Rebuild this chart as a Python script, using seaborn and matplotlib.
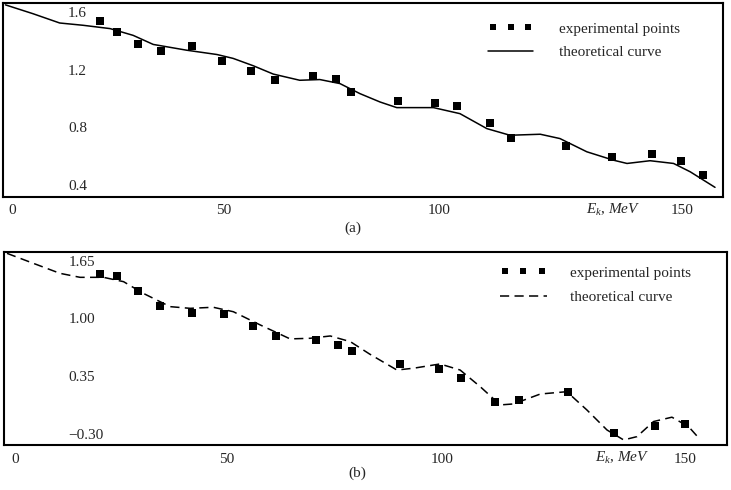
import matplotlib
matplotlib.use("Agg")
import matplotlib.pyplot as plt
import seaborn as sns
import pandas as pd
from matplotlib.collections import PathCollection

# ---------------- data ----------------
# panel (a)
a_exp_x = [20.6, 24.5, 29.6, 34.9, 42.1, 49.1, 56.0, 61.6, 70.6, 75.9, 79.3,
           90.3, 99.1, 104.2, 111.9, 116.8, 129.7, 140.4, 149.8, 156.6, 161.8]
a_exp_y = [1.538, 1.464, 1.383, 1.33, 1.364, 1.26, 1.19, 1.13, 1.156, 1.136, 1.048,
           0.985, 0.971, 0.949, 0.833, 0.729, 0.671, 0.597, 0.614, 0.570, 0.47]
a_th_x = [-1.5, 4.9, 11.2, 16.7, 23.0, 28.4, 33.1, 40.9, 48.0, 51.8, 56.5, 61.2,
          67.4, 72.1, 76.8, 81.5, 86.2, 90.1, 98.7, 104.9, 111.2, 116.6, 123.7,
          128.3, 134.6, 140.8, 144.0, 149.4, 154.9, 158.8, 164.6]
a_th_y = [1.652, 1.591, 1.526, 1.51, 1.487, 1.44, 1.377, 1.337, 1.307, 1.28, 1.229,
          1.171, 1.128, 1.133, 1.105, 1.035, 0.977, 0.938, 0.938, 0.896, 0.792,
          0.746, 0.753, 0.723, 0.631, 0.573, 0.55, 0.569, 0.55, 0.492, 0.384]

# panel (b)
b_exp_x = [19.9, 23.8, 28.7, 34.0, 41.5, 48.8, 55.7, 61.1, 70.4, 75.7, 79.0,
           90.2, 99.3, 104.4, 112.4, 118.1, 129.4, 140.3, 149.9, 156.9]
b_exp_y = [1.50, 1.478, 1.309, 1.144, 1.065, 1.05, 0.915, 0.803, 0.758, 0.702, 0.634,
           0.488, 0.428, 0.334, 0.064, 0.083, 0.176, -0.285, -0.209, -0.19]
b_th_x = [-1.9, 4.3, 10.5, 15.2, 20.7, 25.4, 30.0, 36.3, 41.0, 46.4, 51.1, 57.4,
          64.4, 69.1, 73.8, 78.5, 83.0, 89.4, 93.3, 99.5, 104.2, 108.9, 113.6,
          116.7, 123.0, 129.2, 133.9, 138.6, 142.5, 145.6, 149.5, 153.8, 157.7, 159.8]
b_th_y = [1.733, 1.62, 1.508, 1.463, 1.463, 1.414, 1.283, 1.133, 1.114, 1.126, 1.076,
          0.927, 0.77, 0.777, 0.803, 0.739, 0.6, 0.42, 0.44, 0.488, 0.42, 0.233,
          0.027, 0.038, 0.15, 0.176, -0.03, -0.255, -0.367, -0.33, -0.16, -0.111,
          -0.217, -0.33]

x_tick_labels = ["0", "50", "100", "150"]
a_y_ticks = [0.4, 0.8, 1.2, 1.6]
a_y_labels = ["0.4", "0.8", "1.2", "1.6"]
b_y_ticks = [-0.30, 0.35, 1.00, 1.65]
b_y_labels = ["\u22120.30", "0.35", "1.00", "1.65"]
legend_labels = ["experimental points", "theoretical curve"]
x_label = r"$E_k$, $MeV$"

# ---------------- style ----------------
sns.set_style("white")
plt.rcParams["font.family"] = ["Liberation Serif", "DejaVu Serif"]
plt.rcParams["mathtext.fontset"] = "custom"
plt.rcParams["mathtext.it"] = "Liberation Serif:italic"
plt.rcParams["mathtext.rm"] = "Liberation Serif"
FS = 11

W, H = 731, 490
fig = plt.figure(figsize=(W / 100, H / 100), dpi=100)
fig.patch.set_facecolor("white")


def px_axes(l, t, r, b):
    return fig.add_axes([l / W, 1 - b / H, (r - l) / W, (b - t) / H])


ax_a = px_axes(3.3, 2.7, 722.7, 196.7)
ax_b = px_axes(4.0, 252.0, 727.0, 445.0)

df_a_exp = pd.DataFrame({"x": a_exp_x, "y": a_exp_y})
df_a_th = pd.DataFrame({"x": a_th_x, "y": a_th_y})
df_b_exp = pd.DataFrame({"x": b_exp_x, "y": b_exp_y})
df_b_th = pd.DataFrame({"x": b_th_x, "y": b_th_y})

sns.lineplot(data=df_a_th, x="x", y="y", ax=ax_a, color="black", lw=1.1,
             estimator=None, label=legend_labels[1])
sns.scatterplot(data=df_a_exp, x="x", y="y", ax=ax_a, color="black", marker="s",
                s=26, linewidth=0, label=legend_labels[0], zorder=3)

sns.lineplot(data=df_b_th, x="x", y="y", ax=ax_b, color="black", lw=1.1,
             estimator=None, label=legend_labels[1], linestyle=(0, (6, 3.5)))
sns.scatterplot(data=df_b_exp, x="x", y="y", ax=ax_b, color="black", marker="s",
                s=26, linewidth=0, label=legend_labels[0], zorder=3)

x_tick_pos = [0, 49.5, 100, 157]
for ax, xl, yl, yt, ylab in [
    (ax_a, (-2.0, 166.4), (0.319, 1.667), a_y_ticks, a_y_labels),
    (ax_b, (-2.6, 166.7), (-0.424, 1.748), b_y_ticks, b_y_labels),
]:
    ax.set_xlim(*xl)
    ax.set_ylim(*yl)
    ax.set_xlabel("")
    ax.set_ylabel("")
    ax.set_xticks(x_tick_pos)
    ax.set_xticklabels(x_tick_labels, fontsize=FS)
    ax.set_yticks(yt)
    ax.set_yticklabels(ylab, fontsize=FS)
    ax.tick_params(axis="x", length=0, pad=5.5)
    ax.tick_params(axis="y", length=0, pad=-46.5)
    for lab in ax.get_yticklabels():
        lab.set_horizontalalignment("left")
    for sp in ax.spines.values():
        sp.set_color("black")
        sp.set_linewidth(1.5)
        sp.set_visible(True)
    ax.grid(False)
    ax.set_facecolor("white")


def make_legend(ax, x_px, y_px, hl, htp, ls):
    h, l = ax.get_legend_handles_labels()
    order = [l.index(legend_labels[0]), l.index(legend_labels[1])]
    leg = ax.legend([h[i] for i in order], [l[i] for i in order],
                    loc="upper left", bbox_to_anchor=(x_px / W, 1 - y_px / H),
                    bbox_transform=fig.transFigure, frameon=False, borderpad=0,
                    borderaxespad=0, handlelength=hl, handletextpad=htp,
                    labelspacing=ls, scatterpoints=3, scatteryoffsets=[0.5],
                    fontsize=FS)
    for hd in leg.legend_handles:
        if isinstance(hd, PathCollection):
            hd.set_sizes([18])
    return leg


make_legend(ax_a, 488, 22, 2.95, 1.7, 0.65)
make_legend(ax_b, 500, 266, 3.07, 1.5, 0.7)

fig.text(613 / W, 1 - 210 / H, x_label, fontsize=FS, ha="center", va="center")
fig.text(622 / W, 1 - 458 / H, x_label, fontsize=FS, ha="center", va="center")
fig.text(353 / W, 1 - 228 / H, "(a)", fontsize=FS, ha="center", va="center")
fig.text(357 / W, 1 - 473 / H, "(b)", fontsize=FS, ha="center", va="center")

fig.savefig("out.png", dpi=100, facecolor="white")
